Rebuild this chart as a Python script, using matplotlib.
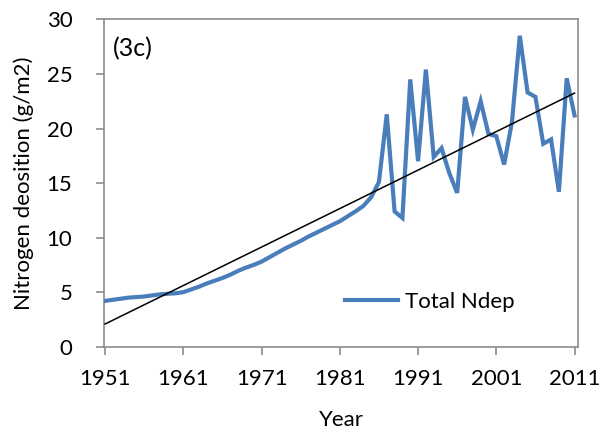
import numpy as np
import matplotlib
matplotlib.use('Agg')
import matplotlib.pyplot as plt

# --- Data ---
years = list(range(1951, 2012))
ndep = [4.2, 4.3, 4.4, 4.5, 4.55, 4.6, 4.7, 4.8, 4.85, 4.9,      # 1951-1960
        5.0, 5.25, 5.5, 5.8, 6.05, 6.3, 6.6, 6.95, 7.25, 7.5,     # 1961-1970
        7.8, 8.2, 8.6, 9.0, 9.35, 9.7, 10.1, 10.45, 10.8, 11.15,  # 1971-1980
        11.5, 11.95, 12.4, 12.9, 13.7, 15.1, 21.3, 12.4, 11.8, 24.5,  # 1981-1990
        17.0, 25.4, 17.4, 18.2, 15.9, 14.1, 22.9, 19.9, 22.5, 19.5,   # 1991-2000
        19.3, 16.7, 20.6, 28.5, 23.3, 22.9, 18.6, 19.0, 14.2, 24.6,   # 2001-2010
        21.2]                                                       # 2011
xtick_years = [1951, 1961, 1971, 1981, 1991, 2001, 2011]
yticks = [0, 5, 10, 15, 20, 25, 30]

plt.rcParams['font.family'] = ['Lato', 'DejaVu Sans']
FS = 16

fig = plt.figure(figsize=(6.03, 4.37), dpi=100)
ax = fig.add_axes([0.173, 0.2066, 0.785, 0.749])

line_color = '#4a7ebb'
ax.plot(years, ndep, color=line_color, linewidth=3.0, label='Total Ndep',
        solid_joinstyle='miter', zorder=3)

# linear trendline, like Excel's
coef = np.polyfit(years, ndep, 1)
trend = np.polyval(coef, [years[0], years[-1]])
ax.plot([years[0], years[-1]], trend, color='black', linewidth=1.1, zorder=4)

ax.set_xlim(1950.9, 2011.4)
ax.set_ylim(0, 30)
ax.set_xticks(xtick_years)
ax.set_yticks(yticks)

for s in ax.spines.values():
    s.set_color('#8c8c8c')
    s.set_linewidth(1.2)

ax.tick_params(axis='both', colors='#8c8c8c', labelcolor='black', labelsize=FS,
               length=6, width=1.2, direction='out')
ax.tick_params(axis='y', pad=17)
ax.tick_params(axis='x', pad=10)

ax.set_xlabel('Year', fontsize=FS, labelpad=15)
ax.set_ylabel('Nitrogen deosition (g/m2)', fontsize=FS, labelpad=9)

ax.text(0.018, 0.912, '(3c)', transform=ax.transAxes, fontsize=18, va='center')

ax.legend(loc='center left', bbox_to_anchor=(0.508, 0.137), frameon=False,
          fontsize=FS, handlelength=2.4, handletextpad=0.3,
          borderpad=0, borderaxespad=0)

fig.savefig('out.png', dpi=100)
